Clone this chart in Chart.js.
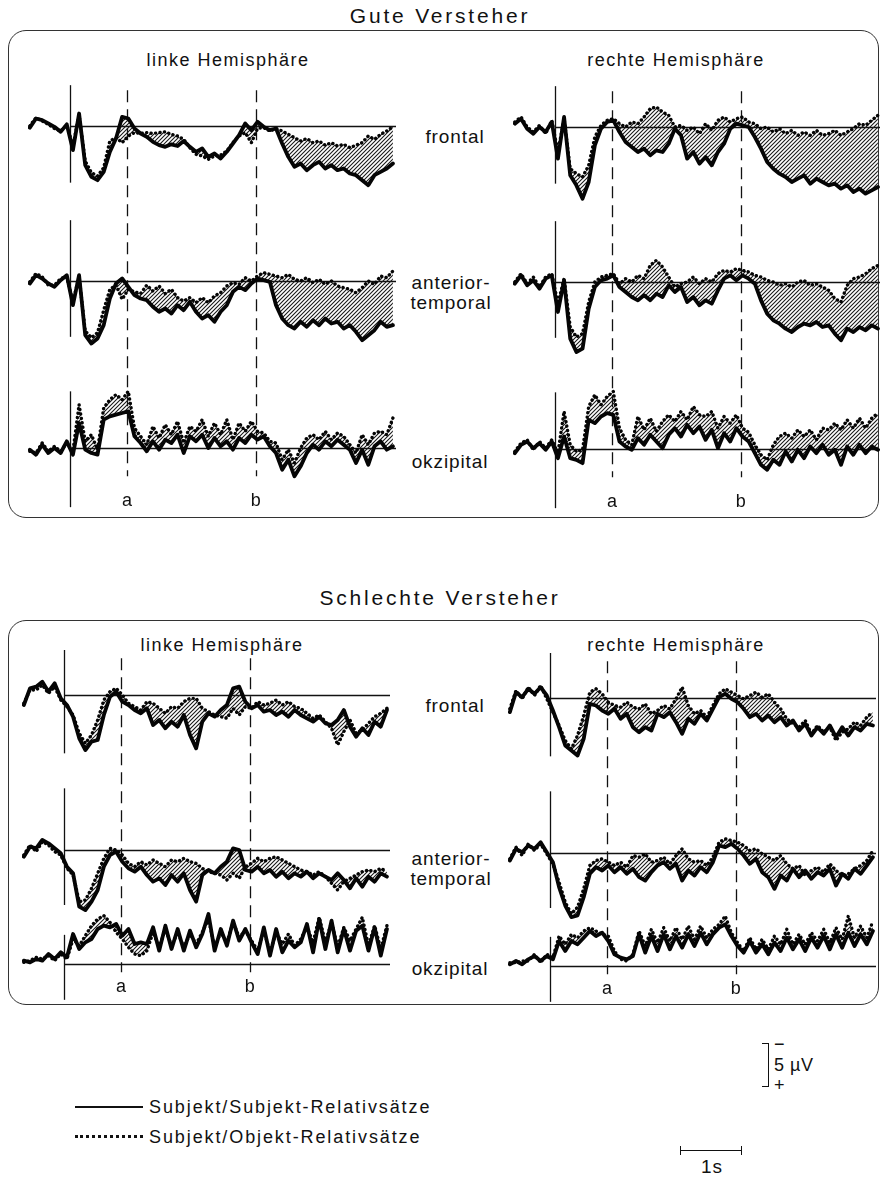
<!DOCTYPE html>
<html><head><meta charset="utf-8">
<script src="https://cdn.jsdelivr.net/npm/chart.js"></script>
<style>
html,body{margin:0;padding:0;background:#fff;overflow:hidden;}
body{width:880px;height:1197px;position:relative;font-family:"Liberation Sans",Arial,Helvetica,sans-serif;color:#111;}
.t{position:absolute;white-space:nowrap;transform:translate(-50%,-50%);line-height:1;}
.title{font-size:21px;letter-spacing:2.8px;}
.hemi{font-size:18px;letter-spacing:1.5px;}
.lead{font-size:19px;letter-spacing:0.9px;}
.mark{font-size:18px;}
.leg{position:absolute;font-size:18px;letter-spacing:1.9px;white-space:nowrap;transform:translateY(-50%);line-height:1;}
.box{position:absolute;border:1.5px solid #333;border-radius:18px;box-sizing:border-box;}
canvas{position:absolute;}
.ln{position:absolute;background:#111;}
</style></head><body>

<div class="t title" style="left:440px;top:15px">Gute Versteher</div>
<div class="box" style="left:8px;top:30px;width:871px;height:488px"></div>
<div class="t hemi" style="left:228px;top:60px">linke Hemisphäre</div>
<div class="t hemi" style="left:676px;top:60px">rechte Hemisphäre</div>
<div class="t lead" style="left:455px;top:136px">frontal</div>
<div class="t lead" style="left:451px;top:282px">anterior-</div>
<div class="t lead" style="left:451px;top:302px">temporal</div>
<div class="t lead" style="left:450px;top:461px">okzipital</div>

<div class="t title" style="left:440px;top:597px">Schlechte Versteher</div>
<div class="box" style="left:8px;top:620px;width:871px;height:385px"></div>
<div class="t hemi" style="left:222px;top:645px">linke Hemisphäre</div>
<div class="t hemi" style="left:676px;top:645px">rechte Hemisphäre</div>
<div class="t lead" style="left:455px;top:705px">frontal</div>
<div class="t lead" style="left:451px;top:858px">anterior-</div>
<div class="t lead" style="left:451px;top:878px">temporal</div>
<div class="t lead" style="left:450px;top:968px">okzipital</div>

<div class="ln" style="left:75px;top:1106px;width:68px;height:2px"></div>
<div class="leg" style="left:149px;top:1107px">Subjekt/Subjekt-Relativsätze</div>
<div style="position:absolute;left:75px;top:1135px;width:68px;border-top:3px dotted #111"></div>
<div class="leg" style="left:149px;top:1137px">Subjekt/Objekt-Relativsätze</div>

<div class="ln" style="left:768px;top:1043px;width:1.3px;height:44px"></div>
<div class="ln" style="left:762px;top:1043px;width:7px;height:1.3px"></div>
<div class="ln" style="left:762px;top:1086px;width:7px;height:1.3px"></div>
<div class="leg" style="left:774px;top:1044px;letter-spacing:0">−</div>
<div class="leg" style="left:774px;top:1065px;letter-spacing:0.5px">5 µV</div>
<div class="leg" style="left:774px;top:1085px;letter-spacing:0">+</div>
<div class="ln" style="left:680px;top:1150px;width:62px;height:1.3px"></div>
<div class="ln" style="left:680px;top:1146px;width:1.3px;height:9px"></div>
<div class="ln" style="left:741px;top:1146px;width:1.3px;height:9px"></div>
<div class="t lead" style="left:712px;top:1166px">1s</div>

<script>
// ---------- data (µV, negative up) ----------
const times = [-0.65,-0.55,-0.45,-0.35,-0.25,-0.15,-0.05,0.05,0.15,0.25,0.35,0.45,0.55,0.65,0.75,0.85,0.95,1.05,1.15,1.25,1.35,1.45,1.55,1.65,1.75,1.85,1.95,2.05,2.15,2.25,2.35,2.45,2.55,2.65,2.75,2.85,2.95,3.05,3.15,3.25,3.35,3.45,3.55,3.65,3.75,3.85,3.95,4.05,4.15,4.25,4.35,4.45,4.55,4.65,4.75,4.85,4.95,5.05,5.15,5.25];
const markerTimes = [0.93, 3.02];
const markerLabels = ['a', 'b'];
const seriesNames = ['Subjekt/Subjekt-Relativsätze', 'Subjekt/Objekt-Relativsätze'];
const rowNames = ['frontal', 'anterior-temporal', 'okzipital'];

// Gute Versteher, linke Hemisphäre
const gutLinksFrontalSS = [0.2,-0.9,-0.7,-0.3,0.1,0.7,-0.2,2.9,-1.5,4.7,6.1,6.5,5.5,3.1,1.5,-1.1,-0.9,0.3,0.9,1.3,1.9,2.3,2.5,2.2,2.4,1.8,2.5,3.1,2.7,3.7,3.3,3.9,3.1,2.1,1.1,-0.3,0.5,-0.5,0.1,0.5,0.3,2.1,3.7,4.9,4.5,5.3,4.7,4.3,5.1,4.7,5.3,5.1,5.7,5.9,6.5,7.1,5.9,5.5,5.1,4.5];
const gutLinksFrontalSO = [0.0,-1.0,-0.6,-0.2,0.3,0.6,-0.1,2.4,-1.3,4.2,5.6,6.0,5.0,1.8,1.4,2.0,1.2,0.8,0.9,0.8,0.9,0.8,0.7,1.0,1.2,1.6,2.6,3.4,3.6,4.0,3.6,3.5,3.0,2.0,1.2,0.8,2.0,0.3,0.2,0.6,0.3,0.6,1.0,1.4,1.8,1.5,2.0,1.8,2.3,2.0,2.4,2.2,2.6,2.3,2.0,1.2,1.6,1.0,0.6,0.1];
const gutLinksAnteriorSS = [0.3,-0.7,-0.3,0.3,0.7,-0.1,-0.7,2.9,-0.7,6.5,7.5,6.9,5.3,2.1,0.3,-0.3,0.7,1.7,2.1,2.3,3.1,3.7,3.3,3.9,2.9,3.5,2.5,3.7,4.5,4.1,4.9,3.7,2.9,1.3,0.7,1.1,0.3,-0.3,-0.1,0.1,2.9,4.5,5.3,5.7,4.9,5.5,4.7,5.3,4.5,5.1,4.9,5.7,5.3,6.1,7.1,6.5,5.9,4.9,5.5,5.3];
const gutLinksAnteriorSO = [0.1,-0.9,-0.5,0.5,0.5,-0.3,-0.5,2.5,-0.5,6.0,6.8,6.2,3.5,1.0,0.5,2.2,1.0,1.3,1.5,0.5,1.2,0.6,1.5,1.0,2.0,2.4,2.0,2.6,2.0,2.6,1.8,1.4,0.6,0.2,0.4,-0.4,0.0,-0.6,-1.0,-0.8,-0.6,-0.4,-0.8,-0.2,0.0,-0.4,0.2,-0.2,0.4,0.0,0.6,0.8,1.0,1.4,0.8,0.0,0.4,-0.6,-0.4,-1.2];
const gutLinksOkzSS = [0.2,0.8,-0.4,0.6,0.0,0.6,-0.8,0.8,-3.0,0.2,0.6,0.8,-3.4,-3.8,-4.0,-4.2,-4.4,-1.4,-0.6,0.4,-0.8,0.2,-1.0,-0.6,-1.6,0.6,-1.4,-0.8,-1.6,0.0,-1.2,-0.2,-0.8,0.2,-1.2,-0.6,-1.6,-1.0,-1.4,-0.2,0.6,2.6,1.4,3.4,2.2,0.6,-0.4,0.2,-0.8,-0.2,-1.0,-0.4,0.2,1.8,0.2,2.0,-0.2,-0.8,0.2,-0.2];
const gutLinksOkzSO = [0.4,0.6,-0.6,0.4,-0.2,0.4,-0.6,0.4,-5.2,-0.8,-1.6,0.2,-4.8,-5.8,-6.4,-5.8,-6.8,-2.4,-1.4,-0.4,-2.6,-1.2,-2.8,-1.6,-3.2,-0.6,-2.6,-2.0,-3.4,-1.4,-3.0,-1.6,-3.4,-1.0,-3.0,-2.0,-3.2,-2.0,-1.8,-0.8,-0.6,1.4,0.2,1.8,0.0,-1.2,-1.6,-1.0,-2.0,-1.0,-1.8,-1.4,-0.4,0.6,-1.6,-0.4,-1.8,-2.0,-1.6,-3.6];

// Gute Versteher, rechte Hemisphäre
const gutRechtsFrontalSS = [-0.4,-1.0,0.2,0.8,0.0,0.6,-0.6,3.8,-1.2,5.8,7.0,8.6,6.6,2.2,0.2,-0.6,-0.8,0.6,1.8,2.4,3.0,2.6,3.4,2.8,3.0,2.0,0.2,1.0,3.8,3.0,4.4,3.6,4.6,3.0,2.0,0.2,-0.4,-0.2,0.0,1.2,2.6,4.2,5.0,5.6,6.0,6.6,6.2,5.8,6.8,6.2,6.6,7.0,6.8,7.4,7.0,7.8,7.4,8.0,7.6,7.2];
const gutRechtsFrontalSO = [-0.6,-1.2,0.0,0.6,-0.2,0.8,-0.8,3.0,-1.0,5.0,5.6,6.0,4.6,1.2,-0.2,-0.8,-1.0,-0.4,0.0,-0.6,-0.4,-1.2,-2.2,-2.4,-1.8,-1.4,0.0,-0.2,0.4,0.0,0.8,-0.4,0.4,-0.8,-1.2,-0.6,-1.0,-1.2,-0.6,-0.4,0.2,0.0,0.6,0.2,0.8,0.4,1.0,0.6,1.0,0.4,1.0,0.8,0.4,1.0,0.6,0.2,-0.4,-0.2,-0.8,-1.4];
const gutRechtsAnteriorSS = [0.2,-0.8,0.4,-0.2,0.8,-0.4,-0.8,3.6,-0.2,6.8,8.4,8.0,3.2,0.6,-0.2,-0.4,-0.8,0.6,1.2,1.8,2.2,1.6,2.2,1.4,1.8,0.4,1.2,0.6,2.4,1.8,2.8,2.2,2.6,1.0,-0.4,-0.8,-0.2,-0.8,-0.4,0.2,2.2,3.8,4.6,5.0,5.6,6.0,5.4,5.0,5.2,4.8,5.4,5.2,6.2,7.0,5.6,6.0,5.4,5.8,5.2,5.6];
const gutRechtsAnteriorSO = [0.0,-1.0,0.2,-0.6,0.6,-0.6,-1.0,2.6,-0.4,5.4,6.6,6.2,2.4,0.0,-0.6,-0.8,-1.0,0.2,-0.4,0.0,-0.8,-0.4,-2.0,-2.6,-1.8,-0.6,0.6,0.2,0.0,-0.6,0.2,-0.4,0.0,-1.0,-1.4,-1.2,-1.6,-1.4,-1.2,-0.8,-0.6,-0.2,0.0,0.4,0.2,0.6,0.0,-0.2,0.4,0.2,0.6,1.0,2.0,2.4,0.4,-0.4,-0.6,-1.0,-1.6,-2.0];
const gutRechtsOkzSS = [0.5,-0.5,-0.9,-0.1,-0.7,0.1,-0.9,1.1,-1.5,1.1,1.3,1.7,-3.5,-3.1,-3.9,-4.3,-4.1,-0.9,-0.3,0.1,-1.3,-0.5,-1.7,-0.9,-0.1,-1.7,-2.5,-1.5,-2.9,-1.9,-2.7,-1.1,-2.3,-0.1,-1.9,-0.9,-2.5,-1.5,-0.9,0.5,1.9,2.5,1.3,1.9,0.3,1.5,0.1,1.1,-0.3,0.5,-0.5,0.7,0.1,1.9,-0.3,0.7,-0.5,0.5,-0.3,0.1];
const gutRechtsOkzSO = [0.3,-0.7,-1.1,0.1,-0.9,-0.1,-1.1,0.5,-4.5,-0.5,0.3,0.1,-5.1,-6.5,-5.3,-6.3,-6.9,-2.5,-1.1,-0.5,-3.9,-2.3,-3.7,-2.1,-3.3,-4.1,-3.3,-4.5,-3.5,-5.1,-4.1,-3.9,-4.5,-2.5,-3.9,-3.1,-4.1,-2.5,-2.0,-0.5,0.7,1.3,-0.5,-1.5,-1.9,-1.3,-2.3,-1.5,-2.3,-1.1,-2.5,-2.3,-3.1,-2.3,-3.5,-2.5,-3.7,-2.5,-3.7,-4.3];

// Schlechte Versteher, linke Hemisphäre
const schlechtLinksFrontalSS = [1.2,-0.8,-1.0,-1.6,-0.4,-1.4,0.4,1.2,2.6,5.2,6.6,5.6,5.4,2.4,0.2,-0.4,0.8,1.2,1.8,2.2,1.6,3.6,3.0,4.0,3.2,3.8,2.4,4.8,6.4,3.2,2.2,2.6,1.8,1.2,-0.8,-1.0,0.8,1.6,1.2,2.0,1.8,2.4,2.0,2.6,1.8,2.4,2.8,3.2,2.6,3.4,3.6,3.0,1.8,3.8,5.0,4.0,4.8,3.2,3.8,1.8];
const schlechtLinksFrontalSO = [1.0,-0.6,-0.6,-1.2,-0.2,-1.0,0.6,1.4,2.4,4.6,5.8,4.8,3.0,0.6,-0.4,-0.8,0.0,1.0,1.4,1.8,0.8,1.0,1.6,2.2,1.4,1.6,0.8,0.4,0.4,1.6,2.0,2.4,2.6,2.8,1.6,2.4,1.4,1.6,0.8,1.2,1.0,0.6,1.2,0.8,1.4,1.6,2.2,2.8,2.4,3.2,4.0,6.0,4.4,3.0,4.6,4.2,3.4,2.6,2.2,1.6];
const schlechtLinksAnteriorSS = [0.8,-0.4,-0.2,-1.2,-0.8,-0.2,0.4,2.0,2.8,6.8,7.2,6.2,4.8,2.0,0.6,0.2,1.4,2.2,2.6,2.0,3.0,3.8,3.4,4.2,3.0,3.8,2.8,4.8,6.2,3.0,2.4,2.8,2.0,1.4,-0.2,0.0,2.4,2.6,2.0,2.8,2.4,3.2,2.6,3.4,2.8,3.2,2.6,3.4,2.8,3.2,3.6,2.8,3.6,4.6,3.4,4.4,3.2,3.8,2.8,3.2];
const schlechtLinksAnteriorSO = [0.6,-0.6,0.2,-1.0,-0.6,0.2,0.6,2.2,3.0,6.2,6.0,4.6,2.8,1.0,-0.2,0.0,0.6,1.6,2.0,1.4,1.8,1.2,1.6,2.0,1.2,1.4,1.0,1.4,1.6,2.2,2.6,2.8,3.0,3.6,2.8,3.4,2.0,1.6,1.0,1.4,1.0,0.8,1.2,1.6,2.0,2.4,2.6,3.0,2.6,3.2,4.0,4.8,3.8,3.4,3.0,2.6,2.4,2.6,2.2,2.6];
const schlechtLinksOkzSS = [-0.4,-0.2,-0.6,-0.4,-1.2,-0.6,-1.4,-0.8,-3.6,-1.8,-2.6,-3.0,-4.2,-4.6,-4.4,-4.8,-3.4,-4.2,-2.4,-2.6,-2.4,-4.4,-1.6,-4.6,-1.8,-4.2,-1.6,-4.0,-2.0,-3.6,-6.0,-1.6,-4.2,-2.2,-5.2,-2.8,-4.2,-2.6,-1.2,-4.4,-1.0,-4.2,-1.4,-2.8,-2.0,-2.6,-4.8,-1.4,-5.4,-1.8,-5.2,-1.4,-4.2,-1.6,-4.0,-4.6,-1.6,-4.4,-1.0,-4.2];
const schlechtLinksOkzSO = [-0.2,-0.4,-0.8,-0.6,-1.0,-0.4,-1.2,-0.6,-3.0,-2.2,-3.4,-4.6,-5.4,-5.8,-5.0,-3.8,-3.0,-2.0,-1.2,-1.0,-1.6,-3.8,-2.0,-4.2,-2.2,-3.8,-2.0,-3.6,-2.4,-3.8,-5.4,-2.0,-3.8,-2.6,-5.0,-3.2,-4.0,-2.8,-1.6,-4.0,-1.4,-3.8,-2.4,-3.6,-2.2,-3.0,-4.4,-2.6,-5.6,-2.6,-5.0,-2.0,-4.4,-2.8,-4.2,-5.6,-2.2,-4.6,-1.8,-4.6];

// Schlechte Versteher, rechte Hemisphäre
const schlechtRechtsFrontalSS = [1.7,-0.7,-0.1,-1.1,-0.5,-1.3,-0.3,1.5,3.5,5.7,6.3,6.9,4.9,0.7,0.9,1.5,1.9,1.3,2.5,1.9,3.5,4.1,3.5,3.9,1.9,2.3,1.7,2.9,4.3,2.5,3.1,1.9,2.7,1.3,-0.1,-0.5,0.1,0.5,1.3,2.3,1.9,2.7,2.1,2.9,2.3,3.3,2.7,3.9,3.1,4.5,3.5,4.3,3.3,4.7,3.5,4.5,3.5,3.9,3.1,3.3];
const schlechtRechtsFrontalSO = [1.3,-0.9,0.1,-1.3,-0.3,-1.5,0.1,1.7,3.3,5.1,6.1,4.5,2.1,-0.7,-1.1,-0.5,0.5,0.9,1.1,0.5,1.1,1.3,0.7,1.9,1.5,0.9,1.3,0.1,-1.3,0.9,1.9,1.5,2.3,0.9,-0.5,-1.1,-0.7,-0.3,0.1,-0.3,-0.7,-0.1,-0.5,0.5,1.3,2.5,3.1,3.5,2.7,4.3,3.3,4.1,3.5,5.1,4.1,3.7,2.9,3.3,2.3,1.7];
const schlechtRechtsAnteriorSS = [0.9,-0.5,-0.1,-0.9,-0.5,-1.3,-0.1,1.1,4.1,6.3,7.7,7.5,5.3,2.5,1.7,2.1,1.5,2.3,1.7,2.5,1.9,2.9,3.3,2.3,1.5,1.1,1.9,1.3,3.3,2.1,2.7,1.7,2.3,1.1,-0.9,-0.7,-1.1,-0.5,0.3,1.3,0.7,2.3,2.9,4.3,2.7,3.3,1.9,2.9,2.1,3.1,2.3,2.7,1.9,3.9,2.5,3.1,1.9,2.5,1.5,0.5];
const schlechtRechtsAnteriorSO = [0.7,-0.7,0.3,-1.1,-0.3,-1.1,0.1,1.3,3.5,5.9,7.3,6.5,4.3,1.5,0.9,0.7,1.1,1.5,1.1,1.7,0.3,0.5,0.1,1.1,0.9,0.5,1.3,0.3,-0.5,0.7,1.1,0.9,1.5,0.5,-1.3,-1.7,-1.5,-1.3,-0.9,-0.3,-0.5,0.1,0.5,0.9,0.3,1.3,1.9,1.5,2.7,2.1,1.7,2.3,1.3,2.1,2.7,2.5,1.9,1.5,0.9,-0.3];
const schlechtRechtsOkzSS = [-0.2,-0.6,-0.2,-0.8,-1.2,-0.6,-1.2,-0.8,-3.0,-1.8,-3.0,-2.6,-3.4,-4.2,-3.6,-4.0,-3.0,-1.4,-1.0,-0.8,-1.2,-3.8,-1.6,-3.6,-1.8,-3.8,-2.0,-3.6,-2.2,-3.8,-2.4,-4.0,-2.6,-3.8,-4.6,-5.0,-3.6,-2.4,-1.6,-3.0,-1.6,-2.6,-1.4,-2.8,-1.8,-3.4,-2.0,-3.2,-1.8,-3.4,-2.2,-3.6,-2.0,-3.8,-2.2,-4.0,-2.4,-3.8,-2.6,-4.2];
const schlechtRechtsOkzSO = [-0.4,-0.4,-0.6,-0.6,-1.4,-0.4,-1.4,-1.0,-3.6,-2.6,-3.8,-3.4,-4.2,-4.6,-4.2,-3.8,-3.6,-1.8,-0.8,-0.6,-1.4,-4.2,-2.4,-4.4,-2.8,-4.6,-3.0,-4.6,-3.2,-4.8,-3.2,-4.8,-3.4,-4.4,-5.0,-6.0,-4.0,-2.8,-1.8,-3.4,-2.0,-3.2,-2.0,-3.6,-2.6,-4.4,-2.6,-3.8,-2.6,-4.0,-3.0,-4.4,-2.8,-4.6,-3.2,-6.0,-3.4,-4.8,-3.4,-5.4];

// ---------- drawing ----------
const PX_PER_UV = 25 / 3;   // 5 µV = ~42 px
const T_MIN = -0.68, T_MAX = 5.3;

function hatchPattern() {
  const c = document.createElement('canvas');
  c.width = 4; c.height = 4;
  const g = c.getContext('2d');
  g.strokeStyle = '#1a1a1a'; g.lineWidth = 1.1;
  g.beginPath();
  g.moveTo(0, 4); g.lineTo(4, 0);
  g.moveTo(-1, 1); g.lineTo(1, -1);
  g.moveTo(3, 5); g.lineTo(5, 3);
  g.stroke();
  return g.createPattern(c, 'repeat');
}
const HATCH = hatchPattern();

const guides = {
  id: 'guides',
  beforeDatasetsDraw(chart, args, o) {
    const ctx = chart.ctx, x = chart.scales.x;
    ctx.save();
    ctx.strokeStyle = '#111';
    ctx.lineWidth = 1.3;
    const xo = Math.round(x.getPixelForValue(0)) + 0.5;
    o.onset.forEach((span, i) => {
      const y = chart.scales['y' + i];
      const yb = Math.round(y.getPixelForValue(0)) + 0.5;
      ctx.beginPath();
      ctx.moveTo(xo, yb); ctx.lineTo(x.getPixelForValue(x.max), yb);
      ctx.stroke();
      ctx.beginPath();
      ctx.moveTo(xo, y.getPixelForValue(span[0]));
      ctx.lineTo(xo, y.getPixelForValue(span[1]));
      ctx.stroke();
    });
    ctx.setLineDash([12, 7]);
    const last = chart.scales['y' + (o.onset.length - 1)];
    markerTimes.forEach(t => {
      const xm = Math.round(x.getPixelForValue(t)) + 0.5;
      ctx.beginPath();
      ctx.moveTo(xm, chart.scales.y0.getPixelForValue(o.dash[0]));
      ctx.lineTo(xm, last.getPixelForValue(o.dash[1]));
      ctx.stroke();
    });
    ctx.restore();
  }
};

function makePanel(cfg) {
  const cv = document.createElement('canvas');
  cv.width = cfg.w; cv.height = cfg.h;
  cv.style.left = cfg.left + 'px'; cv.style.top = cfg.top + 'px';
  cv.style.width = cfg.w + 'px'; cv.style.height = cfg.h + 'px';
  document.body.appendChild(cv);
  const scales = { x: { type: 'linear', min: T_MIN, max: T_MAX, display: false } };
  const datasets = [];
  cfg.rows.forEach((r, i) => {
    const b = cfg.baselines[i];
    scales['y' + i] = { type: 'linear', display: false, reverse: true,
      min: -b / PX_PER_UV, max: (cfg.h - b) / PX_PER_UV };
    datasets.push({ label: seriesNames[0] + ' ' + rowNames[i],
      data: r[0].map((v, k) => ({ x: times[k], y: v })), yAxisID: 'y' + i,
      borderColor: '#050505', borderWidth: 3.8, pointRadius: 0, tension: 0,
      borderJoinStyle: 'round', borderCapStyle: 'round', fill: false });
    datasets.push({ label: seriesNames[1] + ' ' + rowNames[i],
      data: r[1].map((v, k) => ({ x: times[k], y: v })), yAxisID: 'y' + i,
      borderColor: '#050505', borderWidth: 3.4, borderDash: [0.1, 4.4], borderCapStyle: 'round',
      borderJoinStyle: 'round', pointRadius: 0, tension: 0, fill: '-1', backgroundColor: HATCH });
  });
  const chart = new Chart(cv, {
    type: 'line',
    data: { datasets },
    options: {
      animation: false, responsive: false, devicePixelRatio: 1,
      layout: { padding: 0 },
      plugins: { legend: { display: false }, tooltip: { enabled: false },
        guides: { onset: cfg.onset, dash: cfg.dash } },
      scales
    },
    plugins: [guides]
  });
  const last = chart.scales['y' + (cfg.rows.length - 1)];
  markerTimes.forEach((t, j) => {
    const d = document.createElement('div');
    d.className = 't mark';
    d.textContent = markerLabels[j];
    d.style.left = (cfg.left + chart.scales.x.getPixelForValue(t)) + 'px';
    d.style.top = (cfg.top + last.getPixelForValue(cfg.labelAt)) + 'px';
    document.body.appendChild(d);
  });
}

const topOnset = [[-4.9, 6.8], [-7.3, 6.7], [-6.8, 7.1]];
const botOnset = [[-5.4, 7.0], [-7.4, 6.6], [-3.5, 4.3]];

makePanel({ left: 28, top: 80, w: 368, h: 435, baselines: [46, 201, 368], onset: topOnset, dash: [-4.3, 3.4], labelAt: 6.2,
  rows: [[gutLinksFrontalSS, gutLinksFrontalSO], [gutLinksAnteriorSS, gutLinksAnteriorSO], [gutLinksOkzSS, gutLinksOkzSO]] });
makePanel({ left: 513, top: 80, w: 368, h: 435, baselines: [47, 202, 369], onset: topOnset, dash: [-4.3, 3.4], labelAt: 6.2,
  rows: [[gutRechtsFrontalSS, gutRechtsFrontalSO], [gutRechtsAnteriorSS, gutRechtsAnteriorSO], [gutRechtsOkzSS, gutRechtsOkzSO]] });
makePanel({ left: 22, top: 645, w: 368, h: 360, baselines: [50, 205, 319], onset: botOnset, dash: [-4.4, 1.0], labelAt: 2.6,
  rows: [[schlechtLinksFrontalSS, schlechtLinksFrontalSO], [schlechtLinksAnteriorSS, schlechtLinksAnteriorSO], [schlechtLinksOkzSS, schlechtLinksOkzSO]] });
makePanel({ left: 508, top: 645, w: 368, h: 360, baselines: [53, 208, 321], onset: botOnset, dash: [-4.4, 1.0], labelAt: 2.6,
  rows: [[schlechtRechtsFrontalSS, schlechtRechtsFrontalSO], [schlechtRechtsAnteriorSS, schlechtRechtsAnteriorSO], [schlechtRechtsOkzSS, schlechtRechtsOkzSO]] });
</script>
</body></html>
